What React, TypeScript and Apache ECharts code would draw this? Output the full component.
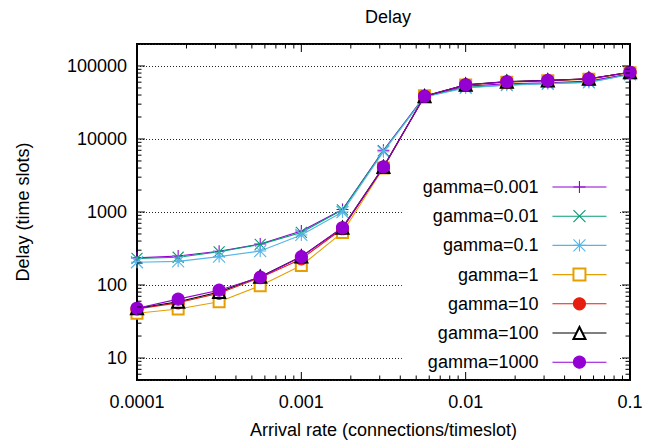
import React, { useEffect, useRef } from "react";
import * as echarts from "echarts";

// ---- data ----
const arrivalRates = [0.0001, 0.000178, 0.000316, 0.000562, 0.001, 0.00178, 0.00316, 0.00562, 0.01, 0.0178, 0.0316, 0.0562, 0.1];

const gamma0001 = [235, 250, 290, 365, 550, 1080, 7000, 38500, 53000, 57000, 59000, 62000, 78000];
const gamma001 = [232, 240, 285, 360, 525, 1070, 6900, 38000, 51000, 55000, 57500, 60000, 77000];
const gamma01 = [205, 211, 245, 292, 485, 1000, 6700, 37500, 50000, 54500, 57000, 59500, 76500];
const gamma1 = [41, 47, 59, 98, 185, 525, 4000, 39000, 55000, 60000, 63000, 66000, 81000];
const gamma10 = [47, 57, 77, 126, 228, 590, 4100, 38500, 55000, 60500, 63000, 66500, 82000];
const gamma100 = [48, 59, 80, 130, 245, 610, 4150, 38500, 55300, 61000, 63500, 67000, 82000];
const gamma1000 = [48, 64, 85, 128, 244, 608, 4140, 38500, 55300, 60800, 63400, 66700, 82000];

const seriesNames = ["gamma=0.001", "gamma=0.01", "gamma=0.1", "gamma=1", "gamma=10", "gamma=100", "gamma=1000"];
const seriesValues = [gamma0001, gamma001, gamma01, gamma1, gamma10, gamma100, gamma1000];

const xTickLabels = ["0.0001", "0.001", "0.01", "0.1"];
const xTickExponents = [-4, -3, -2, -1];
const yTickLabels = ["10", "100", "1000", "10000", "100000"];
const yTickExponents = [1, 2, 3, 4, 5];

// ---- styling ----
const colors = ["#9400d3", "#009e73", "#56b4e9", "#e69f00", "#e51e10", "#000000", "#9400d3"];
const PLUS = "path://M0,5L10,5M5,0L5,10";
const CROSS = "path://M0,0L10,10M0,10L10,0";
const STAR = "path://M0,5L10,5M5,0L5,10M0,0L10,10M0,10L10,0";
const symbols = [PLUS, CROSS, STAR, "emptyRect", "circle", "emptyTriangle", "circle"];
const symbolSizes = [12, 11, 12, 11, 12, 12, 12];

const FONT = "Liberation Sans, Arial, Helvetica, sans-serif";

const X_MIN = 0.0001, X_MAX = 0.1, Y_MIN = 5, Y_MAX = 200000;

function labelFor(v: number, exps: number[], labels: string[]) {
  const l = Math.log10(v);
  for (let i = 0; i < exps.length; i++) if (Math.abs(l - exps[i]) < 1e-6) return labels[i];
  return "";
}

export default function App() {
  const ref = useRef<HTMLDivElement>(null);
  useEffect(() => {
    if (!ref.current) return;
    const chart = echarts.init(ref.current, undefined, { renderer: "svg" });

    const lineSeries = seriesNames.map((name, i) => ({
      name,
      type: "line",
      data: arrivalRates.map((x, j) => [x, seriesValues[i][j]]),
      symbol: symbols[i],
      symbolSize: symbolSizes[i],
      showAllSymbol: true,
      color: colors[i],
      lineStyle: { color: colors[i], width: 1.1 },
      itemStyle: { color: colors[i], borderColor: colors[i], borderWidth: 1.1 },
      emphasis: { disabled: true },
      z: 3 + i * 0.01,
    }));

    const tickSeries = {
      type: "custom",
      name: "ticks",
      silent: true,
      z: 6,
      data: [[0.001, 100]],
      renderItem: (params: any, api: any) => {
        const cs = params.coordSys;
        const children: any[] = [];
        const stroke = { stroke: "#000", lineWidth: 1 };
        const bottom = cs.y + cs.height;
        const right = cs.x + cs.width;
        for (let e = -4; e <= -1; e++) {
          for (let m = 1; m <= 9; m++) {
            const v = m * Math.pow(10, e);
            if (v < X_MIN * 0.999 || v > X_MAX * 1.001) continue;
            const px = api.coord([v, 100])[0];
            const len = m === 1 ? 8 : 4.5;
            children.push({ type: "line", shape: { x1: px, y1: bottom, x2: px, y2: bottom - len }, style: stroke });
            children.push({ type: "line", shape: { x1: px, y1: cs.y, x2: px, y2: cs.y + len }, style: stroke });
          }
        }
        for (let e = 0; e <= 5; e++) {
          for (let m = 1; m <= 9; m++) {
            const v = m * Math.pow(10, e);
            if (v <= Y_MIN * 0.999 || v >= Y_MAX * 0.999) continue;
            const py = api.coord([0.001, v])[1];
            const len = m === 1 ? 8 : 4.5;
            children.push({ type: "line", shape: { x1: cs.x, y1: py, x2: cs.x + len, y2: py }, style: stroke });
            children.push({ type: "line", shape: { x1: right, y1: py, x2: right - len, y2: py }, style: stroke });
          }
        }
        return { type: "group", children };
      },
    };

    chart.setOption({
      animation: false,
      backgroundColor: "#fff",
      textStyle: { fontFamily: FONT },
      title: {
        text: "Delay",
        left: 360,
        top: 3,
        textStyle: { fontFamily: FONT, fontSize: 18, fontWeight: "normal", color: "#000" },
      },
      grid: {
        left: 137,
        right: 25,
        top: 44,
        bottom: 61,
        show: true,
        borderColor: "#000",
        borderWidth: 2,
        backgroundColor: "transparent",
      },
      legend: {
        data: seriesNames,
        orient: "vertical",
        align: "right",
        right: 35,
        top: 172,
        padding: [6, 13, 6, 21],
        backgroundColor: "#fff",
        itemWidth: 54,
        itemHeight: 15,
        itemGap: 11.2,
        selectedMode: false,
        itemStyle: { borderWidth: 1.1 },
        lineStyle: { width: 1.1 },
        textStyle: { fontFamily: FONT, fontSize: 18, color: "#000", lineHeight: 18, padding: [0, 9, 0, 0] },
        z: 5,
      },
      xAxis: {
        type: "log",
        logBase: 10,
        min: X_MIN,
        max: X_MAX,
        name: "Arrival rate (connections/timeslot)",
        nameLocation: "middle",
        nameGap: 41,
        nameTextStyle: { fontFamily: FONT, fontSize: 18, color: "#000" },
        axisLine: { show: false },
        axisTick: { show: false },
        splitLine: { show: false },
        minorTick: { show: false },
        axisLabel: {
          fontFamily: FONT,
          fontSize: 18,
          color: "#000",
          margin: 13,
          formatter: (v: number) => labelFor(v, xTickExponents, xTickLabels),
        },
      },
      yAxis: {
        type: "log",
        logBase: 10,
        min: Y_MIN,
        max: Y_MAX,
        name: "Delay (time slots)",
        nameLocation: "middle",
        nameGap: 105,
        nameRotate: 90,
        nameTextStyle: { fontFamily: FONT, fontSize: 18, color: "#000" },
        axisLine: { show: false },
        axisTick: { show: false },
        minorTick: { show: false },
        splitLine: { show: true, lineStyle: { color: "#222", width: 1, type: [1, 2] } },
        axisLabel: {
          fontFamily: FONT,
          fontSize: 18,
          color: "#000",
          margin: 10,
          showMinLabel: false,
          showMaxLabel: false,
          formatter: (v: number) => labelFor(v, yTickExponents, yTickLabels),
        },
      },
      series: [...lineSeries, tickSeries],
    });
    return () => chart.dispose();
  }, []);
  return <div ref={ref} style={{ width: 655, height: 444, position: "absolute", left: 0, top: 0 }} />;
}
